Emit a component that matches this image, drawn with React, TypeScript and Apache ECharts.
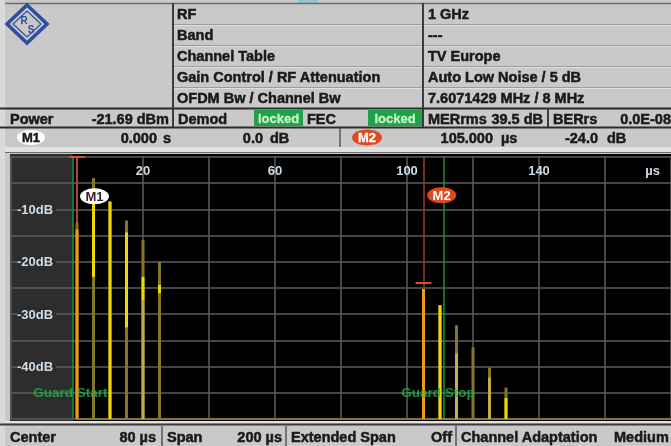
import React, { useEffect, useRef } from "react";
import * as echarts from "echarts";

// ---- axes ----
const timeMinUs = -20;
const timeMaxUs = 180;
const timeTickUs = 20;
const labelledTimesUs = [20, 60, 100, 140];
const timeUnitLabel = "µs";
const levelMinDb = -50;
const levelMaxDb = 0;
const levelTickDb = 5;
const labelledLevelsDb = [-10, -20, -30, -40];

// ---- trace: max hold (olive impulses) ----
const pulseTimesUs = [0, 5, 10, 15, 20, 25, 105, 110, 115, 120, 125, 130];
const maxHoldDb = [-12.5, -4.0, -8.5, -12.1, -15.8, -20.0, -25.2, -28.3, -32.1, -36.3, -40.2, -44.0];

// ---- trace: clear/write (bright segments) ----
const writeTimesUs = [0, 5, 10, 15, 20, 25, 105, 110, 130];
const writeTopDb = [-13.8, -8.5, -8.5, -14.4, -22.9, -24.4, -25.2, -28.3, -46.0];
const writeBottomDb = [-50, -22.9, -50, -32.5, -27.3, -26.0, -50, -50, -50];

// ---- trace: average (pale segments) ----
const averageTimesUs = [20, 115, 125];
const averageTopDb = [-27.3, -37.5, -42.1];

const traceFloorDb = -50;
const traceStartUs = 0;

// ---- markers / guard ----
const markerNames = ["M1", "M2"];
const markerTimesUs = [0, 105];
const markerLevelsDb = [0, -24];
const guardNames = ["Guard Start", "Guard Stop"];
const guardTimesUs = [-1.2, 111.2];

// ---- header texts ----
const settingLabels = ["RF", "Band", "Channel Table", "Gain Control / RF Attenuation", "OFDM Bw / Channel Bw"];
const settingValues = ["1 GHz", "---", "TV Europe", "Auto Low Noise / 5 dB", "7.6071429 MHz / 8 MHz"];
const powerValue = "-21.69 dBm";
const merValue = "39.5 dB";
const berValue = "0.0E-08";
const markerTimeTexts = ["0.000", "105.000"];
const markerTimeUnits = ["s", "µs"];
const markerLevelTexts = ["0.0", "-24.0"];
const footerLabels = ["Center", "Span", "Extended Span", "Channel Adaptation"];
const footerValues = ["80 µs", "200 µs", "Off", "Medium"];

const FONT = "Liberation Sans";
const OLIVE = "#857728";
const YELLOW = "#f2d800";
const PALE = "#c4ae48";
const ORANGE = "#f29a12";
const MARK_RED = "#c64a26";
const GREEN_LINE = "#1d8f3c";
const GREEN_TEXT = "#20b54a";
const TEXT = "#1a1a1a";

function txt(x: number, y: number, text: string, align = "left", extra: any = {}) {
  const fill = extra.fill || TEXT;
  return {
    type: "text",
    x,
    y,
    z: 20,
    silent: true,
    style: {
      text,
      fill,
      stroke: fill,
      lineWidth: extra.stroke === undefined ? 0.5 : extra.stroke,
      fontSize: extra.size || 14.5,
      fontWeight: "bold",
      fontFamily: FONT,
      textAlign: align,
      textVerticalAlign: "middle",
      align,
      verticalAlign: "middle",
    },
  };
}
function hline(x1: number, x2: number, y: number, stroke: string, lw = 1) {
  return { type: "line", z: 15, silent: true, shape: { x1, y1: y, x2, y2: y }, style: { stroke, lineWidth: lw } };
}
function vline(x: number, y1: number, y2: number, stroke: string, lw = 1) {
  return { type: "line", z: 15, silent: true, shape: { x1: x, y1, x2: x, y2 }, style: { stroke, lineWidth: lw } };
}
function box(x: number, y: number, w: number, h: number, fill: string, z = 5) {
  return { type: "rect", z, silent: true, shape: { x, y, width: w, height: h }, style: { fill } };
}

function buildGraphic() {
  const g: any[] = [];
  // background
  g.push(box(0, 0, 671, 446, "#c9c9c9", -20));
  g.push(box(0, 0, 5, 446, "#dadada", -19));
  g.push(box(298, 0, 20, 3, "#8fc4d0", -18));
  // plot frame
  g.push(box(10, 154, 661, 267, "#000000", -10));
  g.push(box(10, 154, 63, 267, "#2d2d2d", -9));
  g.push(box(5, 147, 666, 5, "#e2e2e2", -15));
  g.push(hline(5, 671, 152.5, "#6a6a6a", 1));
  g.push(box(5, 421, 666, 2, "#e2e2e2", -15));
  g.push(hline(0, 671, 424.5, "#3a3a3a", 2));

  // top table lines
  g.push(hline(5, 671, 3.5, "#6e6e6e", 1.5));
  [24.5, 45.5, 66.5, 87.5].forEach((y) => {
    g.push(hline(173, 671, y, "#9c9c9c", 1));
    g.push(hline(173, 671, y + 1, "#e0e0e0", 1));
  });
  g.push(vline(173, 3, 127, "#3c3c3c", 2));
  g.push(vline(423, 3, 127, "#3c3c3c", 2));
  g.push(hline(0, 671, 108.5, "#2c2c2c", 2));
  g.push(hline(0, 671, 127.5, "#2c2c2c", 2));
  g.push(vline(548, 108, 127, "#3c3c3c", 2));
  g.push(vline(340, 128, 147, "#555555", 1.5));
  [162, 286, 456].forEach((x) => g.push(vline(x, 426, 446, "#555555", 1.5)));

  // logo
  g.push({
    type: "polygon", z: 20, silent: true,
    shape: { points: [[27, 5], [47, 24], [27, 43], [7, 24]] },
    style: { fill: "none", stroke: "#2d4f9e", lineWidth: 3.5 },
  });
  g.push({
    type: "polygon", z: 20, silent: true,
    shape: { points: [[27, 11], [41, 24], [27, 37], [13, 24]] },
    style: { fill: "none", stroke: "#2d4f9e", lineWidth: 1.2 },
  });
  g.push(txt(24, 20, "R", "center", { size: 10, fill: "#2d4f9e", stroke: 0 }));
  g.push(txt(31, 29, "S", "center", { size: 10, fill: "#2d4f9e", stroke: 0 }));

  // setting rows
  const rowY = [14, 34.5, 55.5, 76.5, 97.5];
  settingLabels.forEach((s, i) => g.push(txt(177, rowY[i], s)));
  settingValues.forEach((s, i) => g.push(txt(428, rowY[i], s)));

  // power row
  const py = 118.5;
  g.push(txt(10, py, "Power"));
  g.push(txt(169, py, powerValue, "right"));
  g.push(txt(178, py, "Demod"));
  g.push(box(254, 110, 49, 16, "#1fa348", 10));
  g.push(txt(278.5, py, "locked", "center", { fill: "#c8f2c8", size: 13, stroke: 0.3 }));
  g.push(txt(307, py, "FEC"));
  g.push(box(368, 110, 54, 16, "#1fa348", 10));
  g.push(txt(395, py, "locked", "center", { fill: "#c8f2c8", size: 13, stroke: 0.3 }));
  g.push(txt(428, py, "MERrms"));
  g.push(txt(543, py, merValue, "right"));
  g.push(txt(553, py, "BERrs"));
  g.push(txt(671, py, berValue, "right"));

  // marker row
  const my = 137.5;
  g.push({ type: "ellipse", z: 18, silent: true, shape: { cx: 31, cy: my, rx: 14, ry: 7.5 }, style: { fill: "#ffffff" } });
  g.push(txt(31, my, markerNames[0], "center", { size: 13 }));
  g.push(txt(157, my, markerTimeTexts[0], "right"));
  g.push(txt(163, my, markerTimeUnits[0]));
  g.push(txt(263, my, markerLevelTexts[0], "right"));
  g.push(txt(270, my, "dB"));
  g.push({ type: "ellipse", z: 18, silent: true, shape: { cx: 367, cy: my, rx: 15, ry: 8 }, style: { fill: "#e0481e" } });
  g.push(txt(367, my, markerNames[1], "center", { size: 13, fill: "#ffffff", stroke: 0.3 }));
  g.push(txt(493, my, markerTimeTexts[1], "right"));
  g.push(txt(501, my, markerTimeUnits[1]));
  g.push(txt(598, my, markerLevelTexts[1], "right"));
  g.push(txt(607, my, "dB"));

  // footer
  const fy = 437;
  const fl = [10, 167, 291, 461];
  const fv = [156, 282, 452, 614];
  footerLabels.forEach((s, i) => g.push(txt(fl[i], fy, s)));
  footerValues.forEach((s, i) => g.push(txt(fv[i], fy, s, i === 3 ? "left" : "right")));
  return g;
}

function pulseRenderer(width: number) {
  return (params: any, api: any) => {
    const t = api.value(0);
    const top = api.coord([t, api.value(1)]);
    const bot = api.coord([t, api.value(2)]);
    return {
      type: "rect",
      shape: { x: top[0] - width / 2, y: top[1], width, height: bot[1] - top[1] },
      style: { fill: api.visual("color") },
    };
  };
}

export default function App() {
  const ref = useRef<HTMLDivElement>(null);
  useEffect(() => {
    if (!ref.current) return;
    const chart = echarts.init(ref.current, undefined, { renderer: "svg" });
    const axisFont = { color: "#cfdbe8", fontWeight: "bold" as const, fontSize: 13, fontFamily: FONT };

    const maxHoldData = pulseTimesUs.map((t, i) => [t, maxHoldDb[i], traceFloorDb]);
    const averageData = averageTimesUs.map((t, i) => [t, averageTopDb[i], traceFloorDb]);
    const writeData = writeTimesUs.map((t, i) => ({
      value: [t, writeTopDb[i], writeBottomDb[i]],
      itemStyle: { color: markerTimesUs.includes(t) ? ORANGE : YELLOW },
    }));

    const markerLineData: any[] = [];
    guardTimesUs.forEach((t) =>
      markerLineData.push({ xAxis: t, lineStyle: { color: GREEN_LINE, width: 1.5, type: "solid" } })
    );
    markerTimesUs.forEach((t, i) => {
      markerLineData.push({ xAxis: t, lineStyle: { color: i === 0 ? MARK_RED : "#9a3b27", width: 1.5, type: "solid" } });
      markerLineData.push([
        { coord: [t - 2.4, markerLevelsDb[i]], lineStyle: { color: "#e0501e", width: 2, type: "solid" } },
        { coord: [t + 2.4, markerLevelsDb[i]] },
      ]);
    });

    const markerLabelAnchors = [
      [5.3, -7.5],
      [110.5, -7.3],
    ];
    const guardLabelAnchors = [
      [-2.0, -45],
      [109.4, -45],
    ];

    chart.setOption({
      animation: false,
      graphic: buildGraphic(),
      grid: { left: 11, top: 157, width: 660, height: 262, show: false },
      xAxis: {
        type: "value",
        position: "top",
        min: timeMinUs,
        max: timeMaxUs,
        interval: timeTickUs,
        axisLine: { show: false },
        axisTick: { show: false },
        splitLine: { show: true, lineStyle: { color: "#5c5c5c", width: 1.5 } },
        axisLabel: {
          ...axisFont,
          inside: true,
          margin: 7,
          showMinLabel: false,
          showMaxLabel: true,
          alignMaxLabel: "right",
          formatter: (v: number) =>
            v === timeMaxUs ? `{u|${timeUnitLabel}}` : labelledTimesUs.includes(v) ? String(v) : "",
          rich: { u: { ...axisFont, padding: [0, 11, 0, 0] } },
        },
      },
      yAxis: {
        type: "value",
        min: levelMinDb,
        max: levelMaxDb,
        interval: levelTickDb,
        axisLine: { show: false },
        axisTick: { show: false },
        splitLine: { show: true, lineStyle: { color: "#5c5c5c", width: 1.5 } },
        axisLabel: {
          ...axisFont,
          inside: true,
          margin: 6,
          backgroundColor: "#2d2d2d",
          padding: [0, 3, 0, 0],
          formatter: (v: number) => (labelledLevelsDb.includes(v) ? `${v}dB` : ""),
        },
      },
      series: [
        {
          name: "floor",
          type: "line",
          z: 1,
          silent: true,
          symbol: "none",
          data: [
            [traceStartUs, traceFloorDb],
            [timeMaxUs, traceFloorDb],
          ],
          lineStyle: { color: OLIVE, width: 2 },
          markLine: {
            silent: true,
            z: 1,
            symbol: ["none", "none"],
            label: { show: false },
            data: markerLineData,
          },
        },
        {
          name: "Max hold",
          type: "custom",
          z: 2,
          silent: true,
          clip: true,
          itemStyle: { color: OLIVE },
          encode: { x: 0, y: [1, 2] },
          renderItem: pulseRenderer(3),
          data: maxHoldData,
        },
        {
          name: "Average",
          type: "custom",
          z: 3,
          silent: true,
          clip: true,
          itemStyle: { color: PALE },
          encode: { x: 0, y: [1, 2] },
          renderItem: pulseRenderer(3),
          data: averageData,
        },
        {
          name: "Clear write",
          type: "custom",
          z: 4,
          silent: true,
          clip: true,
          itemStyle: { color: YELLOW },
          encode: { x: 0, y: [1, 2] },
          renderItem: pulseRenderer(3),
          data: writeData,
        },
        {
          name: "guard labels",
          type: "scatter",
          z: 6,
          silent: true,
          symbolSize: 1,
          itemStyle: { color: "transparent" },
          label: {
            show: true,
            position: "inside",
            formatter: (p: any) => p.name,
            color: GREEN_TEXT,
            fontWeight: "bold",
            fontSize: 13.5,
            fontFamily: FONT,
          },
          data: guardNames.map((n, i) => ({ name: n, value: guardLabelAnchors[i] })),
        },
        {
          name: "marker labels",
          type: "scatter",
          z: 7,
          silent: true,
          symbol: "path://M0 10 A20 10 0 1 1 40 10 A20 10 0 1 1 0 10 Z",
          symbolSize: [29, 16],
          itemStyle: { opacity: 1 },
          label: {
            show: true,
            position: "inside",
            formatter: (p: any) => p.name,
            fontWeight: "bold",
            fontSize: 13,
            fontFamily: FONT,
          },
          data: markerNames.map((n, i) => ({
            name: n,
            value: markerLabelAnchors[i],
            itemStyle: { color: i === 0 ? "#ffffff" : "#e0481e", opacity: 1 },
            label: { color: i === 0 ? "#3a2020" : "#ffffff" },
          })),
        },
      ],
    });
    return () => chart.dispose();
  }, []);
  return (
    <div
      ref={ref}
      style={{ position: "fixed", left: 0, top: 0, width: 671, height: 446 }}
    />
  );
}
